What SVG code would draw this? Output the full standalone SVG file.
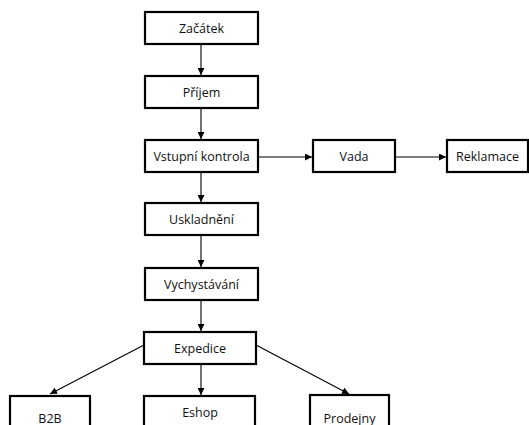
<svg xmlns="http://www.w3.org/2000/svg" width="529" height="425" viewBox="0 0 529 425">
<style>
.box{fill:#fff;stroke:#000;stroke-width:2.2}
.lbl{font-family:"Open Sans","Noto Sans",sans-serif;font-size:12.5px;fill:#111;text-anchor:middle;dominant-baseline:central}
.con{stroke:#000;stroke-width:1.1;fill:none;marker-end:url(#ah)}
</style>
<defs>
<marker id="ah" viewBox="0 0 10 10" refX="10" refY="5" markerWidth="7" markerHeight="7" markerUnits="userSpaceOnUse" orient="auto">
<path d="M0,0 L10,5 L0,10 z" fill="#000"/>
</marker>
</defs>
<rect width="529" height="425" fill="#fff"/>
<g id="connectors">
<line class="con" x1="201" y1="44" x2="201" y2="75"/>
<line class="con" x1="201" y1="108" x2="201" y2="139"/>
<line class="con" x1="201" y1="172" x2="201" y2="202"/>
<line class="con" x1="201" y1="235" x2="201" y2="267"/>
<line class="con" x1="201" y1="300" x2="201" y2="331"/>
<line class="con" x1="258" y1="157" x2="312" y2="157"/>
<line class="con" x1="395" y1="157" x2="446" y2="157"/>
<line class="con" x1="144" y1="345" x2="50" y2="394"/>
<line class="con" x1="201" y1="364" x2="201" y2="395"/>
<line class="con" x1="256" y1="345" x2="349" y2="394"/>
</g>
<g id="zacatek"><rect class="box" x="145" y="12" width="113" height="32"/><text class="lbl" x="201.5" y="28">Začátek</text></g>
<g id="prijem"><rect class="box" x="145" y="76" width="113" height="32"/><text class="lbl" x="201.5" y="92">Příjem</text></g>
<g id="vstupni"><rect class="box" x="145" y="140" width="113" height="32"/><text class="lbl" x="201.5" y="156">Vstupní kontrola</text></g>
<g id="vada"><rect class="box" x="313" y="140" width="82" height="32"/><text class="lbl" x="354" y="156">Vada</text></g>
<g id="reklamace"><rect class="box" x="447" y="140" width="81" height="32"/><text class="lbl" x="487.5" y="156">Reklamace</text></g>
<g id="uskladneni"><rect class="box" x="145" y="203" width="113" height="32"/><text class="lbl" x="201.5" y="219">Uskladnění</text></g>
<g id="vychystavani"><rect class="box" x="145" y="268" width="113" height="32"/><text class="lbl" x="201.5" y="284">Vychystávání</text></g>
<g id="expedice"><rect class="box" x="144" y="332" width="112" height="32"/><text class="lbl" x="200" y="348">Expedice</text></g>
<g id="b2b"><rect class="box" x="10" y="396" width="80" height="40"/><text class="lbl" x="50" y="418">B2B</text></g>
<g id="eshop"><rect class="box" x="144" y="396" width="111" height="40"/><text class="lbl" x="200" y="412">Eshop</text></g>
<g id="prodejny"><rect class="box" x="310" y="395" width="79" height="40"/><text class="lbl" x="349.5" y="418">Prodejny</text></g>
</svg>
